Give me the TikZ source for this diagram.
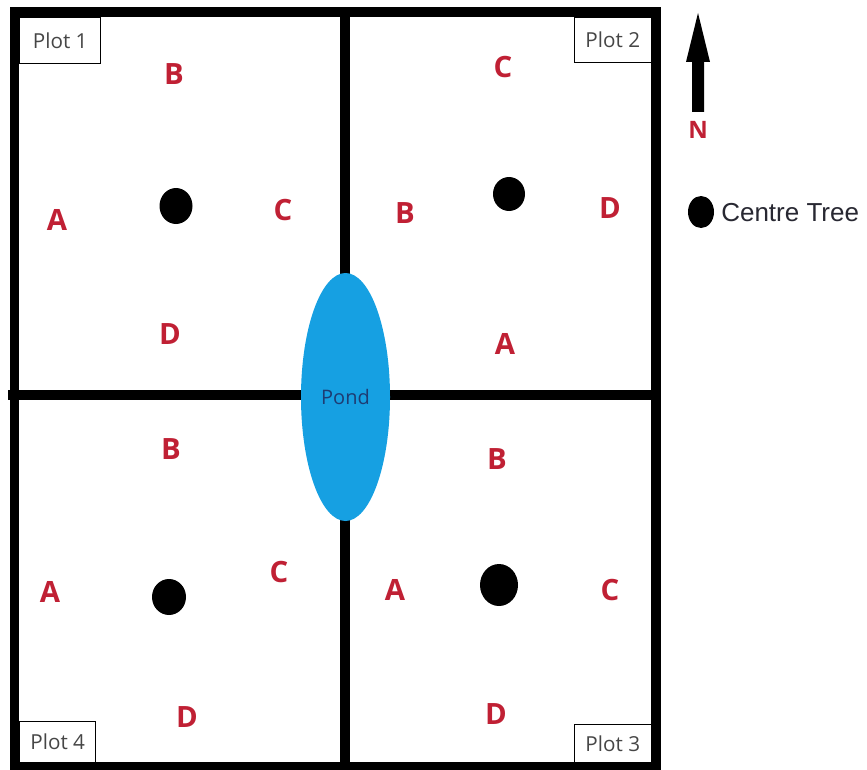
\documentclass[tikz,border=0pt]{standalone}
\usepackage{fontspec}
\setmainfont{Open Sans}
\newfontfamily\arialf{Liberation Sans}
\usetikzlibrary{shapes.geometric}
\definecolor{lred}{RGB}{192,32,52}
\definecolor{pondblue}{RGB}{22,160,226}
\definecolor{ponddark}{RGB}{30,60,115}
\definecolor{labgray}{RGB}{70,70,70}
\definecolor{legdark}{RGB}{40,40,50}
\begin{document}
\begin{tikzpicture}[x=0.75pt,y=-0.75pt,
  zone/.style={text=lred,font=\fontsize{22}{22}\selectfont\bfseries,inner sep=0pt},
  tree/.style={ellipse,fill=black,inner sep=0pt},
  plotbox/.style={draw=black,line width=1.1pt,fill=white,text=labgray,inner sep=0pt,font=\fontsize{15.5}{16}\selectfont},
  wall/.style={line width=6.8pt,draw=black}
]
\useasboundingbox (0,0) rectangle (867,770);
\fill[white] (0,0) rectangle (867,770);
% dividing lines
\draw[wall] (345,12) -- (345,766);
\draw[wall] (8,395) -- (656,395);
% outer frame
\draw[wall,line width=7pt] (14.5,12) rectangle (656,766.5);
% pond
\node[ellipse,fill=pondblue,minimum width=66.75pt,minimum height=186pt,inner sep=0pt,text=ponddark,font=\fontsize{15}{15}\selectfont] (pond) at (345.5,397) {Pond};
% plot labels
\node[plotbox,anchor=north west,minimum width=60.75pt,minimum height=34.5pt] (p1) at (19,17) {Plot 1};
\node[plotbox,anchor=north east,minimum width=57.75pt,minimum height=33.75pt] (p2) at (652,17) {Plot 2};
\node[plotbox,anchor=south west,minimum width=57pt,minimum height=30.75pt] (p4) at (19,763) {Plot 4};
\node[plotbox,anchor=south east,minimum width=57.75pt,minimum height=28.5pt] (p3) at (652,763) {Plot 3};
% Plot 1
\node[zone] (p1B) at (174,74) {B};
\node[zone] (p1A) at (57,220) {A};
\node[zone] (p1C) at (283,210) {C};
\node[zone] (p1D) at (170,334) {D};
\node[tree,minimum width=24.75pt,minimum height=27pt] (t1) at (176,206) {};
% Plot 2
\node[zone] (p2C) at (503,67) {C};
\node[zone] (p2B) at (405,213) {B};
\node[zone] (p2D) at (610,208) {D};
\node[zone] (p2A) at (505,344) {A};
\node[tree,minimum width=24pt,minimum height=25.5pt] (t2) at (509,194) {};
% Plot 4
\node[zone] (p4B) at (171,449) {B};
\node[zone] (p4A) at (50,592) {A};
\node[zone] (p4C) at (279,572) {C};
\node[zone] (p4D) at (187,717) {D};
\node[tree,minimum width=25.5pt,minimum height=27pt] (t4) at (169,597) {};
% Plot 3
\node[zone] (p3B) at (497,459) {B};
\node[zone] (p3A) at (395,590) {A};
\node[zone] (p3C) at (610,590) {C};
\node[zone] (p3D) at (496,714) {D};
\node[tree,minimum width=28.5pt,minimum height=31.5pt] (t3) at (499,585) {};
% north arrow
\fill[black] (692,112) -- (692,62) -- (686,62) -- (698,13) -- (710,62) -- (704,62) -- (704,112) -- cycle;
\node[text=lred,font=\fontsize{18}{18}\selectfont\bfseries,inner sep=0pt] (north) at (698,130) {N};
% legend
\node[tree,minimum width=19.5pt,minimum height=24pt] (legtree) at (701,212) {};
\node[anchor=west,text=legdark,font=\arialf\fontsize{19.5}{20}\selectfont,inner sep=0pt] (legtext) at (721,213) {Centre Tree};
\end{tikzpicture}
\end{document}
